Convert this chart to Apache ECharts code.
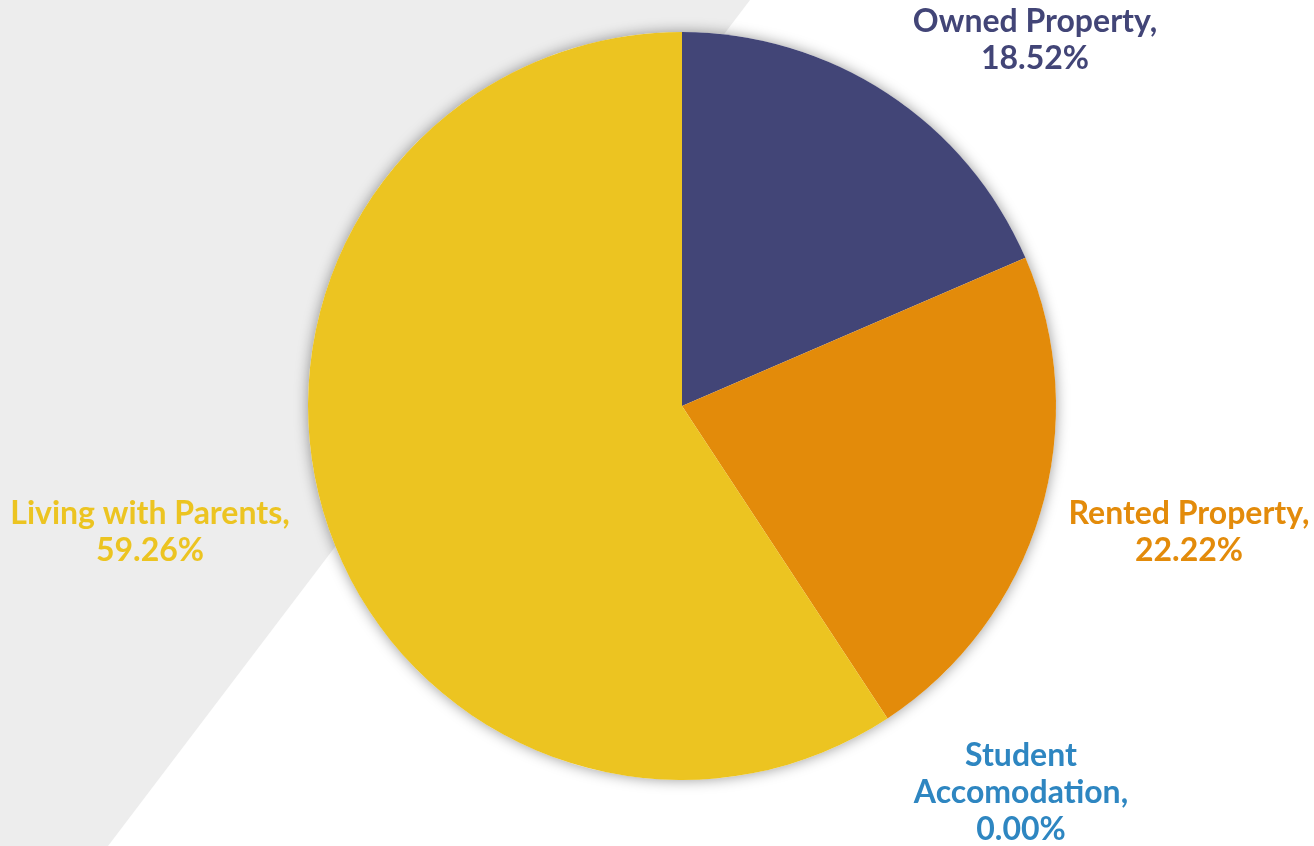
<!DOCTYPE html>
<html>
<head>
<meta charset="utf-8">
<script src="https://cdn.jsdelivr.net/npm/echarts@6/dist/echarts.min.js"></script>
<style>
  html, body { margin: 0; padding: 0; background: #ffffff; }
  #chart { width: 1314px; height: 846px; }
</style>
</head>
<body>
<div id="chart"></div>
<script>
// Accommodation type of respondents (counts)
const categories = ['Owned Property', 'Rented Property', 'Student Accomodation', 'Living with Parents'];
const counts = [5, 6, 0, 16];
const sliceColors = ['#424577', '#e38b0a', '#2e86c1', '#ecc421'];
const labelColors = ['#424577', '#e38b0a', '#2e86c1', '#ecc421'];
const labelTexts = ['Owned Property,', 'Rented Property,', 'Student\nAccomodation,', 'Living with Parents,'];

// label anchor positions (text centre)
const labelPos = [
  { x: 1035, y: 40 },
  { x: 1189, y: 532 },
  { x: 1021, y: 793 },
  { x: 150, y: 532 }
];

const pieCenter = [682, 406];
const pieRadius = 374;

const chart = echarts.init(document.getElementById('chart'), null, { renderer: 'canvas' });

chart.setOption({
  backgroundColor: '#ffffff',
  animation: false,
  graphic: [{
    type: 'polygon',
    z: -10,
    silent: true,
    shape: { points: [[0, 0], [750, 0], [108, 846], [0, 846]] },
    style: { fill: '#ededed' }
  }],
  series: [
    {
      // soft shadow under the whole pie
      type: 'pie',
      silent: true,
      z: 1,
      center: pieCenter,
      radius: pieRadius,
      data: [{ value: 1, name: '' }],
      itemStyle: {
        color: '#ffffff',
        shadowBlur: 14,
        shadowColor: 'rgba(0,0,0,0.4)'
      },
      label: { show: false },
      labelLine: { show: false },
      tooltip: { show: false }
    },
    {
      type: 'pie',
      z: 2,
      center: pieCenter,
      radius: pieRadius,
      startAngle: 90,
      clockwise: true,
      stillShowZeroSum: true,
      data: categories.map((c, i) => ({
        name: c,
        value: counts[i],
        itemStyle: { color: sliceColors[i] },
        label: { color: labelColors[i] }
      })),
      label: {
        show: true,
        position: 'outside',
        fontFamily: 'Lato',
        fontWeight: 'bold',
        fontSize: 32,
        lineHeight: 37,
        align: 'center',
        overflow: 'none',
        formatter: p => labelTexts[p.dataIndex] + '\n' + p.percent.toFixed(2) + '%'
      },
      labelLine: { show: false },
      labelLayout: p => ({
        x: labelPos[p.dataIndex].x,
        y: labelPos[p.dataIndex].y,
        align: 'center',
        verticalAlign: 'middle'
      })
    }
  ]
});
</script>
</body>
</html>
